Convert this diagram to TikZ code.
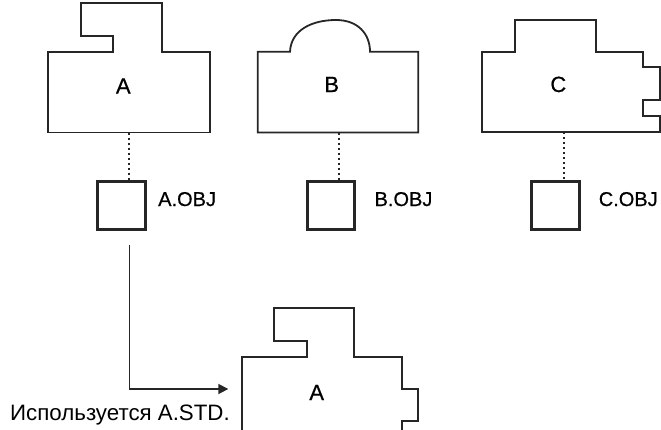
\documentclass[tikz,border=0pt]{standalone}
\usepackage{fontspec}
\setmainfont{Liberation Sans}
\newfontfamily\heavyfont[FakeBold=0.6]{Liberation Sans}
\usetikzlibrary{arrows.meta}
\tikzset{
  outline/.style={line width=1.8pt, draw=black!85, line join=miter},
  objbox/.style={draw=black!85, line width=3pt, minimum width=47.5pt, minimum height=47.5pt, inner sep=0pt, outer sep=0pt},
  dotline/.style={line width=2pt, draw=black!85, dash pattern=on 2pt off 3pt},
  letter/.style={font=\heavyfont\fontsize{22}{24}\selectfont, inner sep=0pt, anchor=base},
  objlabel/.style={font=\heavyfont\fontsize{20}{24}\selectfont, inner sep=0pt, anchor=base west},
  flow/.style={line width=1.8pt, draw=black!85, -{Triangle[length=10pt,width=10pt]}}
}
\begin{document}
\begin{tikzpicture}[x=1pt,y=-1pt]
\useasboundingbox (0,0) rectangle (661,429);
% shape A
\draw[outline] (48.3,132.5) -- (48.3,51.7) -- (113.3,51.7) -- (113.3,35.7) -- (80.7,35.7) -- (80.7,3.3) -- (162,3.3) -- (162,51.7) -- (210.3,51.7) -- (210.3,132.5) -- cycle;
\node[letter] (lblA) at (123.3,93.5) {A};
% shape B
\draw[outline] (257.7,132.5) -- (257.7,51.7) -- (290,51.7) .. controls (291,30) and (312,20) .. (336,20) .. controls (358,20) and (370,34) .. (370,51.7) -- (418.3,51.7) -- (418.3,132.5) -- cycle;
\node[letter] (lblB) at (331.7,92) {B};
% shape C
\draw[outline] (482.3,132) -- (482.3,51.7) -- (515,51.7) -- (515,20) -- (595.7,20) -- (595.7,51.7) -- (643.3,51.7) -- (643.3,67.3) -- (660,67.3) -- (660,100) -- (643.3,100) -- (643.3,116) -- (660,116) -- (660,132) -- cycle;
\node[letter] (lblC) at (558.3,92) {C};
% shape bottoms
\coordinate (Abot) at (129.4,132.5);
\coordinate (Bbot) at (338.5,132.5);
\coordinate (Cbot) at (563.7,132);
% obj boxes
\node[objbox] (boxA) at (121.7,205.3) {};
\node[objbox] (boxB) at (331,205.3) {};
\node[objbox] (boxC) at (555.5,205.3) {};
\node[objlabel] (objA) at (158,206) {A.OBJ};
\node[objlabel] (objB) at (374.4,206) {B.OBJ};
\node[objlabel] (objC) at (598.6,206) {C.OBJ};
\draw[dotline] (Abot) -- (Abot |- boxA.north);
\draw[dotline] (Bbot) -- (Bbot |- boxB.north);
\draw[dotline] (Cbot) -- (Cbot |- boxC.north);
% bottom shape
\draw[outline] (242.3,432) -- (242.3,357.3) -- (306.7,357.3) -- (306.7,341) -- (274,341) -- (274,308.3) -- (354,308.3) -- (354,357.3) -- (402.3,357.3) -- (402.3,389) -- (418.3,389) -- (418.3,421) -- (402.3,421) -- (402.3,432);
\node[letter] (lblA2) at (316.7,400) {A};
\coordinate (arrS) at (129.4,245);
\coordinate (arrE) at (242.3,389);
\draw[flow, shorten >=14pt] (arrS) |- (arrE);
\node[font=\fontsize{22.3}{24}\selectfont, inner sep=0pt, anchor=base west] (usage) at (10,420) {Используется A.STD.};
\end{tikzpicture}
\end{document}
